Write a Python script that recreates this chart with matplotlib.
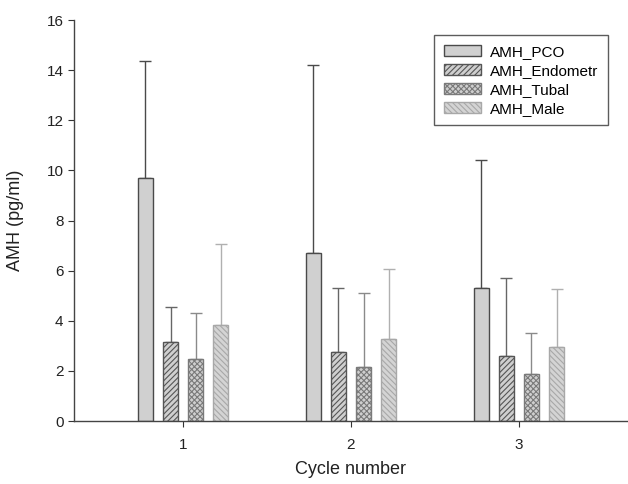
import matplotlib
matplotlib.use("Agg")
import matplotlib.pyplot as plt
import numpy as np

plt.rcParams['font.family'] = ['Liberation Sans', 'DejaVu Sans']
plt.rcParams['hatch.linewidth'] = 0.8

cycles = [1, 2, 3]
series = ["AMH_PCO", "AMH_Endometr", "AMH_Tubal", "AMH_Male"]
means_pco = [9.71, 6.70, 5.30]
means_endo = [3.14, 2.75, 2.61]
means_tubal = [2.49, 2.15, 1.89]
means_male = [3.84, 3.27, 2.95]
upper_pco = [14.35, 14.21, 10.41]
upper_endo = [4.56, 5.31, 5.72]
upper_tubal = [4.31, 5.12, 3.52]
upper_male = [7.05, 6.07, 5.28]

means = [means_pco, means_endo, means_tubal, means_male]
uppers = [upper_pco, upper_endo, upper_tubal, upper_male]
hatches = [None, "//////", "xxxxxx", "\\\\\\\\\\\\"]
edgecols = ["#4a4a4a", "#555555", "#7a7a7a", "#a8a8a8"]
errcols = ["#4a4a4a", "#666666", "#8a8a8a", "#b0b0b0"]
fills = ["#d0d0d0", "#cfcfcf", "#cfcfcf", "#d4d4d4"]

fig = plt.figure(figsize=(6.28, 4.84), dpi=100)
ax = fig.add_axes([0.1178, 0.130, 0.8822, 0.8285])

width = 0.09
step = 0.15
x = np.array(cycles, dtype=float)
for i in range(4):
    off = (i - 1.5) * step
    m = np.array(means[i])
    u = np.array(uppers[i])
    ax.bar(x + off, m, width=width, color=fills[i], edgecolor=edgecols[i],
           hatch=hatches[i], linewidth=1.0, label=series[i], zorder=2)
    ax.errorbar(x + off, m, yerr=[np.zeros_like(m), u - m], fmt='none',
                ecolor=errcols[i], elinewidth=1.0, capsize=4.2, capthick=1.0, zorder=1)

ax.set_xlim(0.35, 3.65)
ax.set_ylim(0, 16)
ax.set_xticks(cycles)
ax.set_yticks(np.arange(0, 17, 2))
ax.tick_params(labelsize=11, length=4, width=0.8, colors="#333333", labelcolor="#222222")
ax.tick_params(axis='x', pad=8)
for s in ["top", "right"]:
    ax.spines[s].set_visible(False)
for s in ["left", "bottom"]:
    ax.spines[s].set_color("#444444")
    ax.spines[s].set_linewidth(1.0)

ax.set_xlabel("Cycle number", fontsize=13, labelpad=7, color="#222222")
ax.set_ylabel("AMH (pg/ml)", fontsize=13, labelpad=16, color="#222222")

leg = ax.legend(loc="upper right", bbox_to_anchor=(0.964, 0.963), fontsize=11,
                frameon=True, fancybox=False, edgecolor="#333333",
                handlelength=2.4, handleheight=0.7, borderpad=0.65,
                labelspacing=0.32, handletextpad=0.6, borderaxespad=0)
leg.get_frame().set_linewidth(1.0)

fig.savefig("out.png", dpi=100)
